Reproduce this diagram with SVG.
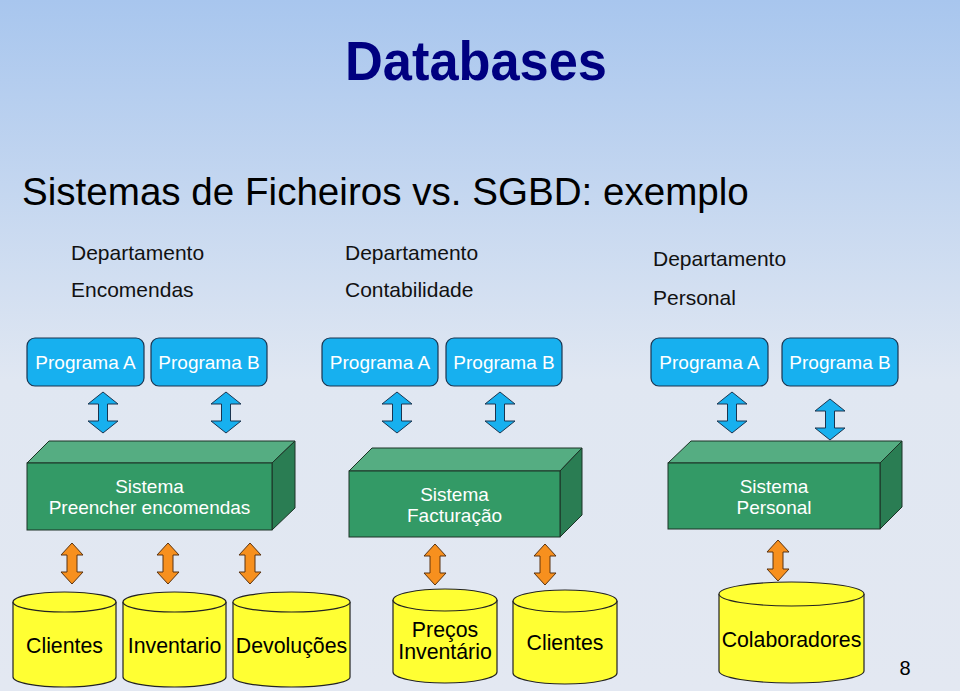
<svg xmlns="http://www.w3.org/2000/svg" width="960" height="691" viewBox="0 0 960 691">
<defs>
<linearGradient id="bg" x1="0" y1="0" x2="0" y2="1">
<stop offset="0" stop-color="#a8c6ee"/>
<stop offset="0.55" stop-color="#e0e7f2"/>
<stop offset="1" stop-color="#e3e8f2"/>
</linearGradient>
<path id="barrow" d="M0,0 L15,12 L4.5,12 L4.5,29 L15,29 L0,41 L-15,29 L-4.5,29 L-4.5,12 L-15,12 Z"/>
<path id="oarrow" d="M0,0 L11,12 L5,12 L5,29 L11,29 L0,41 L-11,29 L-5,29 L-5,12 L-11,12 Z"/>
</defs>
<style>
text{font-family:"Liberation Sans",Arial,sans-serif}
.prog rect{fill:#17b0ef;stroke:#1b3550;stroke-width:1.2}
.prog text{fill:#ffffff;font-size:19px;text-anchor:middle}
.front{fill:#339a66;stroke:#1c3326;stroke-width:1}
.top{fill:#55ad82;stroke:#1c3326;stroke-width:1}
.side{fill:#2a7d53;stroke:#1c3326;stroke-width:1}
.sys text{fill:#ffffff;font-size:19px;text-anchor:middle}
.cyl path,.cyl ellipse{fill:#ffff33;stroke:#222;stroke-width:1.2}
.cyl text{fill:#000;font-size:21.3px;text-anchor:middle}
.dept{fill:#111;font-size:21px}
.ba{fill:#17b0ef;stroke:#1b3550;stroke-width:1}
.oa{fill:#f7901e;stroke:#5a3310;stroke-width:1}
</style>
<rect width="960" height="691" fill="url(#bg)"/>
<text x="476" y="80" font-size="55" font-weight="bold" fill="#000080" text-anchor="middle" textLength="262" lengthAdjust="spacingAndGlyphs">Databases</text>
<text x="22" y="205" font-size="38.6" fill="#000">Sistemas de Ficheiros vs. SGBD: exemplo</text>
<g id="dept-encomendas"><text class="dept" x="71" y="260">Departamento</text><text class="dept" x="71" y="297">Encomendas</text></g>
<g id="dept-contabilidade"><text class="dept" x="345" y="260">Departamento</text><text class="dept" x="345" y="297">Contabilidade</text></g>
<g id="dept-personal"><text class="dept" x="653" y="266">Departamento</text><text class="dept" x="653" y="305">Personal</text></g>

<g id="prog-enc-a" class="prog"><rect x="27" y="338" width="117" height="48" rx="8"/><text x="85.5" y="369">Programa A</text></g>
<g id="prog-enc-b" class="prog"><rect x="151" y="338" width="116" height="48" rx="8"/><text x="209" y="369">Programa B</text></g>
<g id="prog-con-a" class="prog"><rect x="322" y="338" width="116" height="48" rx="8"/><text x="380" y="369">Programa A</text></g>
<g id="prog-con-b" class="prog"><rect x="446" y="338" width="116" height="48" rx="8"/><text x="504" y="369">Programa B</text></g>
<g id="prog-per-a" class="prog"><rect x="651" y="338" width="117" height="48" rx="8"/><text x="709.5" y="369">Programa A</text></g>
<g id="prog-per-b" class="prog"><rect x="782" y="338" width="116" height="48" rx="8"/><text x="840" y="369">Programa B</text></g>

<g id="sys-encomendas" class="sys">
<polygon class="top" points="27,463 49,441 295,441 272,463"/>
<polygon class="side" points="272,463 295,441 295,508 272,530"/>
<rect class="front" x="27" y="463" width="245" height="67"/>
<text x="149.5" y="493">Sistema</text><text x="149.5" y="514">Preencher encomendas</text>
</g>
<g id="sys-facturacao" class="sys">
<polygon class="top" points="349,471 372,448 582,448 560,471"/>
<polygon class="side" points="560,471 582,448 582,515 560,537"/>
<rect class="front" x="349" y="471" width="211" height="66"/>
<text x="454.5" y="501">Sistema</text><text x="454.5" y="522">Facturação</text>
</g>
<g id="sys-personal" class="sys">
<polygon class="top" points="668,463 691,441 902,441 880,463"/>
<polygon class="side" points="880,463 902,441 902,507 880,529"/>
<rect class="front" x="668" y="463" width="212" height="66"/>
<text x="774" y="493">Sistema</text><text x="774" y="514">Personal</text>
</g>

<g id="db-clientes" class="cyl">
<path d="M13,602 V677 A51.5,10 0 0 0 116,677 V602"/>
<ellipse cx="64.5" cy="602" rx="51.5" ry="10"/>
<text x="64.5" y="653">Clientes</text>
</g>
<g id="db-inventario" class="cyl">
<path d="M123,602 V677 A51.5,10 0 0 0 226,677 V602"/>
<ellipse cx="174.5" cy="602" rx="51.5" ry="10"/>
<text x="174.5" y="653">Inventario</text>
</g>
<g id="db-devolucoes" class="cyl">
<path d="M233,602 V677 A58.5,10 0 0 0 350,677 V602"/>
<ellipse cx="291.5" cy="602" rx="58.5" ry="10"/>
<text x="291.5" y="653">Devoluções</text>
</g>
<g id="db-precos" class="cyl">
<path d="M393,600 V672 A52,11 0 0 0 497,672 V600"/>
<ellipse cx="445" cy="600" rx="52" ry="11"/>
<text x="445" y="637">Preços</text><text x="445" y="659">Inventário</text>
</g>
<g id="db-clientes2" class="cyl">
<path d="M513,601 V673 A52,11 0 0 0 617,673 V601"/>
<ellipse cx="565" cy="601" rx="52" ry="11"/>
<text x="565" y="650">Clientes</text>
</g>
<g id="db-colaboradores" class="cyl">
<path d="M719,594 V671 A72.5,12 0 0 0 864,671 V594"/>
<ellipse cx="791.5" cy="594" rx="72.5" ry="12"/>
<text x="791.5" y="647">Colaboradores</text>
</g>
<text x="905" y="675" font-size="20" fill="#000" text-anchor="middle">8</text>

<g id="connectors">
<use href="#barrow" class="ba" x="103" y="392"/>
<use href="#barrow" class="ba" x="226" y="392"/>
<use href="#barrow" class="ba" x="397" y="392"/>
<use href="#barrow" class="ba" x="500" y="392"/>
<use href="#barrow" class="ba" x="732" y="392"/>
<use href="#barrow" class="ba" x="830" y="399"/>
<use href="#oarrow" class="oa" x="72" y="543"/>
<use href="#oarrow" class="oa" x="168" y="543"/>
<use href="#oarrow" class="oa" x="250" y="543"/>
<use href="#oarrow" class="oa" x="435" y="544"/>
<use href="#oarrow" class="oa" x="545" y="544"/>
<use href="#oarrow" class="oa" x="778" y="540"/>
</g>
</svg>
